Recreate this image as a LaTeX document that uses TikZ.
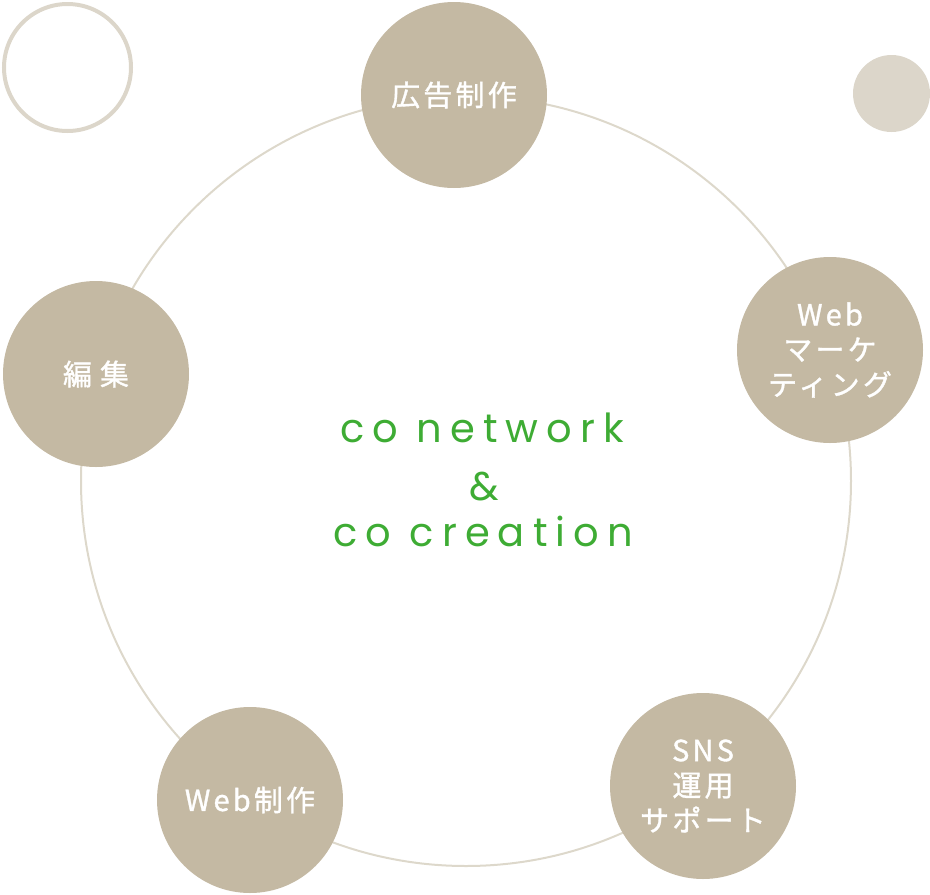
\documentclass[tikz,border=0pt]{standalone}
\usepackage{fontspec}
\newfontfamily\jpfont[LetterSpace=11,FakeBold=1.2]{Noto Sans CJK JP}
\newfontfamily\cofont[LetterSpace=20]{Poppins}
\definecolor{nodefill}{HTML}{C4B9A3}
\definecolor{ringline}{HTML}{DDD8CB}
\definecolor{deco}{HTML}{DCD6CA}
\definecolor{cogreen}{RGB}{62,172,52}
\tikzset{
  svc/.style={circle, fill=nodefill, minimum size=186pt, inner sep=0pt,
    text=white, font=\jpfont\fontsize{29pt}{35pt}\selectfont, align=center},
  cotext/.style={text=cogreen, font=\cofont\fontsize{40pt}{44pt}\selectfont, anchor=base, inner sep=0pt}
}
\begin{document}
\begin{tikzpicture}[x=1pt,y=-1pt]
\useasboundingbox (0,0) rectangle (930,895);
% decorative circles
\draw[deco, line width=4pt] (67.5,67.5) circle[radius=63.5];
\fill[deco] (891.5,93.5) circle[radius=38.5];
% ring
\draw[ringline, line width=2pt] (466,481) circle[radius=385];
% service nodes
\node[svc] (ad)  at (454,95)  {広告制作};
\node[svc] (web) at (830,350) {Web\\マーケ\\ティング};
\node[svc] (sns) at (703,786) {SNS\\運用\\サポート};
\node[svc] (wp)  at (250,800) {Web制作};
\node[svc] (ed)  at (96,374)  {編\hspace{8pt}集};
% centre text
\node[cotext] (l1) at (482,442) {co network};
\node[cotext] (l2) at (484,500) {\&};
\node[cotext] (l3) at (483,546) {co creation};
\end{tikzpicture}
\end{document}
